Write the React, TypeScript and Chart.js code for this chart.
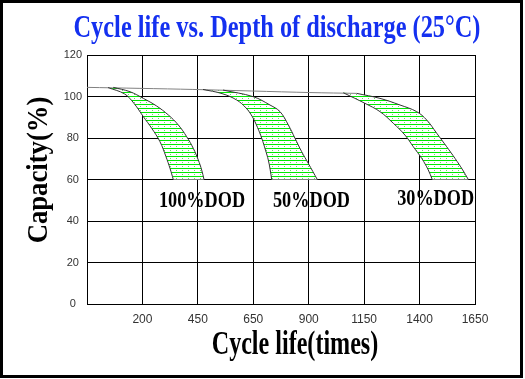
import React, { useEffect, useRef } from 'react';
import { Chart, registerables } from 'chart.js';

Chart.register(...registerables);

// ---- texts ----
const chartTitle = 'Cycle life vs. Depth of discharge (25°C)';
const xAxisTitle = 'Cycle life(times)';
const yAxisTitle = 'Capacity(%)';

// x positions are grid-column indices (0..7); each gridline carries one of these labels
const xTickLabels = ['', '200', '450', '650', '900', '1150', '1400', '1650'];
const yMin = 0;
const yMax = 120;
const yStep = 20;

// ---- series ----
const topLineX = [0, 1.91, 4.02, 4.866];
const topLineY = [104.4, 103.4, 101.9, 101.5];

const dod100OuterX = [0.474, 0.776, 1.016, 1.257, 1.467, 1.647, 1.799, 1.918, 2.008, 2.069, 2.111];
const dod100OuterY = [104.4, 102.3, 99.1, 95.4, 91.1, 86.3, 80.6, 75.0, 69.4, 64.6, 60];
const dod100InnerX = [0.38, 0.68, 0.85, 1.016, 1.167, 1.317, 1.425, 1.497, 1.557];
const dod100InnerY = [104.3, 101.2, 96.6, 90.3, 84.7, 78.2, 71.0, 65.4, 60];

const dod50OuterX = [2.454, 3.0, 3.301, 3.482, 3.632, 3.752, 3.873, 3.992, 4.155];
const dod50OuterY = [103.1, 99.9, 95.9, 92.7, 86.3, 79.9, 73.4, 67.8, 60];
const dod50InnerX = [2.093, 2.436, 2.701, 2.868, 2.982, 3.076, 3.152, 3.22, 3.271, 3.303, 3.332];
const dod50InnerY = [103.4, 101.4, 98.3, 94.5, 90.3, 85.1, 79.9, 74.2, 69.4, 65.0, 60];

const dod30OuterX = [4.866, 5.286, 5.647, 5.948, 6.128, 6.309, 6.489, 6.639, 6.778, 6.879];
const dod30OuterY = [101.5, 99.1, 95.9, 92.7, 88.7, 82.3, 75.8, 70.2, 64.6, 60];
const dod30InnerX = [4.624, 5.015, 5.286, 5.526, 5.737, 5.887, 6.038, 6.157, 6.229];
const dod30InnerY = [101.8, 96.7, 92.7, 87.1, 81.4, 75.8, 70.2, 64.6, 60];

const dodLabels = ['100%DOD', '50%DOD', '30%DOD'];
const dodLabelX = [2.075, 4.05, 6.29];
const dodLabelY = [46.7, 46.7, 47.7];

// ---- styles ----
const TITLE_BLUE = '#1430f0';
const CURVE_COLOR = '#333333';
const TOPLINE_COLOR = '#808080';
const HATCH_GREEN = 'rgb(0,235,0)';
const TENSION = 0.38;

const pts = (xs: number[], ys: number[]) => xs.map((x, i) => ({ x, y: ys[i] }));

function bandShape(ox: number[], oy: number[], ix: number[], iy: number[]) {
  const outer = pts(ox, oy);
  const inner = pts(ix, iy).reverse();
  const shape = outer.slice();
  shape.push({ ...outer[outer.length - 1] });
  shape.push({ ...inner[0] });
  return shape.concat(inner);
}

function makeHatch(): CanvasPattern | string {
  const c = document.createElement('canvas');
  c.width = 6;
  c.height = 4;
  const g = c.getContext('2d');
  if (!g) return HATCH_GREEN;
  g.fillStyle = '#ffffff';
  g.fillRect(0, 0, 6, 4);
  g.fillStyle = HATCH_GREEN;
  g.fillRect(0, 0, 6, 1);
  g.fillStyle = 'rgba(0,200,0,0.6)';
  g.fillRect(2, 2, 1, 1);
  const p = g.createPattern(c, 'repeat');
  return p || HATCH_GREEN;
}

const textPlugin = {
  id: 'customTexts',
  afterDraw(chart: any) {
    const ctx: CanvasRenderingContext2D = chart.ctx;
    const xs = chart.scales.x;
    const ys = chart.scales.y;
    const draw = (text: string, x: number, y: number, font: string, color: string, sx: number, rot = 0) => {
      ctx.save();
      ctx.translate(x, y);
      if (rot) ctx.rotate(rot);
      ctx.scale(sx, 1);
      ctx.font = font;
      ctx.fillStyle = color;
      ctx.textAlign = 'center';
      ctx.textBaseline = 'alphabetic';
      ctx.fillText(text, 0, 0);
      ctx.restore();
    };
    draw(chartTitle, 277, 36.5, "bold 31px 'Liberation Serif', serif", TITLE_BLUE, 0.786);
    draw(xAxisTitle, 295, 354, "bold 33px 'Liberation Serif', serif", '#000', 0.73);
    draw(yAxisTitle, 47, 170, "bold 29px 'Liberation Serif', serif", '#000', 0.92, -Math.PI / 2);
    dodLabels.forEach((t, i) => {
      draw(t, xs.getPixelForValue(dodLabelX[i]), ys.getPixelForValue(dodLabelY[i]),
        "bold 24px 'Liberation Serif', serif", '#000', 0.76);
    });
    // outer frame
    ctx.save();
    ctx.strokeStyle = '#000';
    ctx.lineWidth = 3;
    ctx.strokeRect(1.5, 1.5, 520, 375);
    ctx.restore();
  },
};

export default function App() {
  const ref = useRef<HTMLCanvasElement | null>(null);

  useEffect(() => {
    if (!ref.current) return;
    const hatch = makeHatch();
    const bands = [
      [dod100OuterX, dod100OuterY, dod100InnerX, dod100InnerY],
      [dod50OuterX, dod50OuterY, dod50InnerX, dod50InnerY],
      [dod30OuterX, dod30OuterY, dod30InnerX, dod30InnerY],
    ];
    const datasets: any[] = [];
    bands.forEach((b, i) => {
      datasets.push({
        label: dodLabels[i] + ' band',
        data: bandShape(b[0], b[1], b[2], b[3]),
        showLine: true,
        fill: 'shape',
        backgroundColor: hatch,
        borderColor: 'rgba(0,0,0,0)',
        borderWidth: 0,
        pointRadius: 0,
        tension: TENSION,
        order: 3,
      });
      datasets.push({
        label: dodLabels[i] + ' outer',
        data: pts(b[0], b[1]),
        showLine: true,
        fill: false,
        borderColor: CURVE_COLOR,
        borderWidth: 1,
        pointRadius: 0,
        tension: TENSION,
        order: 1,
      });
      datasets.push({
        label: dodLabels[i] + ' inner',
        data: pts(b[2], b[3]),
        showLine: true,
        fill: false,
        borderColor: CURVE_COLOR,
        borderWidth: 1,
        pointRadius: 0,
        tension: TENSION,
        order: 1,
      });
    });
    datasets.push({
      label: 'initial capacity',
      data: pts(topLineX, topLineY),
      showLine: true,
      fill: false,
      borderColor: TOPLINE_COLOR,
      borderWidth: 1,
      pointRadius: 0,
      tension: 0.3,
      order: 2,
    });

    const chart = new Chart(ref.current, {
      type: 'scatter',
      data: { datasets },
      options: {
        responsive: false,
        animation: false,
        layout: { padding: { top: 55, right: 50, left: 0, bottom: 0 } },
        plugins: {
          legend: { display: false },
          tooltip: { enabled: false },
          title: { display: false },
        },
        scales: {
          x: {
            type: 'linear',
            min: 0,
            max: xTickLabels.length - 1,
            afterFit: (s: any) => { s.height = 75; },
            ticks: {
              stepSize: 1,
              autoSkip: false,
              maxRotation: 0,
              padding: 8,
              color: '#333',
              font: { family: "'Liberation Sans', Arial, sans-serif", size: 12 },
              callback: (v: any) => xTickLabels[Math.round(Number(v))] ?? '',
            },
            grid: { color: '#000', lineWidth: 1, drawTicks: false },
            border: { color: '#000', width: 1 },
          },
          y: {
            type: 'linear',
            min: yMin,
            max: yMax,
            afterFit: (s: any) => { s.width = 87; },
            ticks: {
              stepSize: yStep,
              padding: 5,
              crossAlign: 'center',
              color: '#333',
              font: { family: "'Liberation Sans', Arial, sans-serif", size: 11 },
            },
            grid: { color: '#000', lineWidth: 1, drawTicks: false },
            border: { color: '#000', width: 1 },
          },
        },
      },
      plugins: [textPlugin],
    });
    return () => chart.destroy();
  }, []);

  return (
    <div style={{ position: 'fixed', left: 0, top: 0, width: 525, height: 379, background: '#fff' }}>
      <canvas ref={ref} width={525} height={379} style={{ display: 'block', width: 525, height: 379 }} />
    </div>
  );
}
